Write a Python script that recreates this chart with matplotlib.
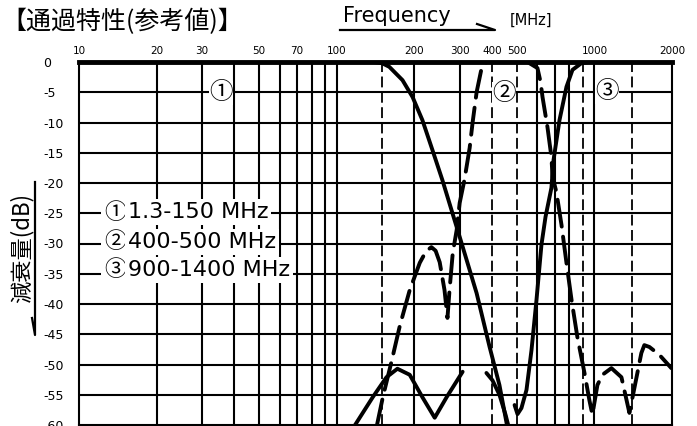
import numpy as np
import matplotlib
matplotlib.use('Agg')
import matplotlib.pyplot as plt
from matplotlib.lines import Line2D

plt.rcParams['font.family'] = ['DejaVu Sans', 'Noto Sans CJK JP']
CJK = ['Noto Sans CJK JP', 'DejaVu Sans']

# ---------------- data ----------------
title = "【通過特性(参考値)】"
ylabel = "減衰量(dB)"
xlabel = "Frequency"
xunit = "[MHz]"

xtick_vals = [10, 20, 30, 50, 70, 100, 200, 300, 400, 500, 1000, 2000]
xtick_labels = ["10", "20", "30", "50", "70", "100", "200", "300", "400", "500", "1000", "2000"]
ytick_vals = [0, -5, -10, -15, -20, -25, -30, -35, -40, -45, -50, -55, -60]
ytick_labels = [str(v) for v in ytick_vals]

grid_freqs = [20, 30, 40, 50, 60, 70, 80, 90, 100, 200, 300, 600, 700, 800, 1000]
band_edges = [150, 400, 500, 900, 1400]

band_marks = ["①", "②", "③"]
band_ranges = ["1.3-150 MHz", "400-500 MHz", "900-1400 MHz"]

# curve 1: 1.3-150 MHz low-pass (solid)
f1 = [10, 140, 150, 160, 180, 197, 215, 235, 257, 300, 349, 392, 428, 460]
d1 = [0, 0, -0.2, -0.8, -3.0, -5.8, -9.6, -14.5, -19.5, -28.9, -38.2, -47.1, -53.4, -60.5]

# curve 2: 400-500 MHz band-pass (dashed)
f2 = [143, 151, 163, 176, 192, 210, 222, 233, 242, 251, 262, 269, 274, 282, 292, 300,
      313, 328, 337, 349, 365, 381, 550, 601, 618, 629, 657, 681, 688, 712, 745, 779,
      815, 859, 915, 956, 982, 1027, 1074, 1164, 1273, 1367, 1429, 1521, 1562, 1634,
      1786, 1988]
d2 = [-60.2, -55.4, -49.6, -43.5, -37.7, -33.2, -31.3, -30.6, -31.2, -33.1, -37.7, -42.3,
      -37.7, -31.6, -27.8, -23.3, -19.5, -14.2, -9.9, -5.0, -1.0, 0, 0, -1.0, -3.3, -5.8,
      -10.7, -15.7, -19.0, -21.5, -26.9, -33.2, -39.3, -45.5, -51.4, -55.9, -58.3, -53.4,
      -51.7, -50.6, -52.1, -58.0, -53.9, -48.1, -46.8, -47.1, -48.4, -50.6]

# curve 3: 900-1400 MHz band-pass (solid, drawn in pieces)
nan = np.nan
f3 = [117, 138, 156, 172, 192, 215, 240, 267, 308, nan,
      381, 402, 428, 452, 464, nan,
      490, 503, 521, 545, 570, 596, 623, 646, 681, 694, 732, 779, 822, 890, 956, 2000]
d3 = [-60.2, -55.4, -52.1, -50.7, -51.7, -55.4, -58.8, -55.4, -51.2, nan,
      -51.4, -52.6, -55.0, -58.3, -60.2, nan,
      -56.7, -58.2, -57.2, -54.2, -47.6, -39.3, -30.2, -25.6, -20.8, -16.2, -9.6,
      -4.1, -1.3, -0.2, 0, 0]

# ---------------- figure ----------------
W, H = 697, 426
fig = plt.figure(figsize=(W / 100, H / 100), dpi=100)
fig.patch.set_facecolor('white')


def px(x, y):
    return (x / W, 1 - y / H)


ax = fig.add_axes([79 / W, 1 / H, 593 / W, 363 / H])
ax.set_xscale('log')
ax.set_xlim(10, 2000)
ax.set_ylim(-60, 0)

# grid
for f in grid_freqs:
    ax.axvline(f, color='black', lw=1.5, zorder=1)
for v in ytick_vals[1:-1]:
    ax.axhline(v, color='black', lw=1.5, zorder=1)
for f in band_edges:
    ax.axvline(f, color='black', lw=1.3, dashes=(6, 2.5), zorder=1)

# curves
ax.plot(f1, d1, color='black', lw=2.8, solid_capstyle='round', solid_joinstyle='round', zorder=3)
ax.plot(f3, d3, color='black', lw=2.8, solid_capstyle='round', solid_joinstyle='round', zorder=3)
ax.plot(f2, d2, color='black', lw=2.8, dashes=(7, 2.6), dash_capstyle='round', zorder=3)

# spines
for s in ['left', 'right', 'bottom']:
    ax.spines[s].set_linewidth(1.5)
ax.spines['top'].set_linewidth(3.5)

# ticks
ax.xaxis.tick_top()
ax.set_xticks(xtick_vals)
ax.set_xticklabels(xtick_labels, fontsize=7.5)
ax.xaxis.set_minor_locator(matplotlib.ticker.NullLocator())
ax.tick_params(axis='x', which='both', length=0, pad=4)
ax.set_yticks(ytick_vals)
ax.set_yticklabels(ytick_labels, fontsize=9)
ax.tick_params(axis='y', length=0, pad=26)
for lab in ax.get_yticklabels():
    lab.set_horizontalalignment('left')

# legend texts with white background
for mark, rng, y in zip(band_marks, band_ranges, [212, 242, 270]):
    fig.text(*px(104, y), mark, fontsize=16, ha='left', va='center', zorder=5,
             family=CJK, bbox=dict(boxstyle='square,pad=0.12', fc='white', ec='none'))
    fig.text(*px(128, y), rng, fontsize=16, ha='left', va='center', zorder=5,
             bbox=dict(boxstyle='square,pad=0.12', fc='white', ec='none'))

# band marks
for lab, (x, y) in zip(band_marks, [(221, 93), (504, 94), (607, 92)]):
    fig.text(*px(x, y), lab, fontsize=17, ha='center', va='center', zorder=5,
             family=CJK, bbox=dict(boxstyle='square,pad=0.02', fc='white', ec='none'))

# title and axis annotations
fig.text(*px(1, 22), title, fontsize=18, ha='left', va='center', family=CJK)
fig.text(*px(343, 22), xlabel, fontsize=15, ha='left', va='baseline')
fig.text(*px(531, 20), xunit, fontsize=10.5, ha='center', va='center')
fig.text(*px(22, 248), ylabel, fontsize=16, ha='center', va='center', rotation=90,
         family=CJK)

# arrows / underlines
x0, y0 = px(340, 30)
x1, y1 = px(495, 30)
xb, yb = px(477, 24)
fig.add_artist(Line2D([x0, x1, xb], [y0, y1, yb], color='black', lw=1.6,
                      transform=fig.transFigure))
x0, y0 = px(35, 182)
x1, y1 = px(35, 335)
xb, yb = px(32, 318)
fig.add_artist(Line2D([x0, x1, xb], [y0, y1, yb], color='black', lw=1.6,
                      transform=fig.transFigure))

fig.savefig('out.png', dpi=100, facecolor='white')
